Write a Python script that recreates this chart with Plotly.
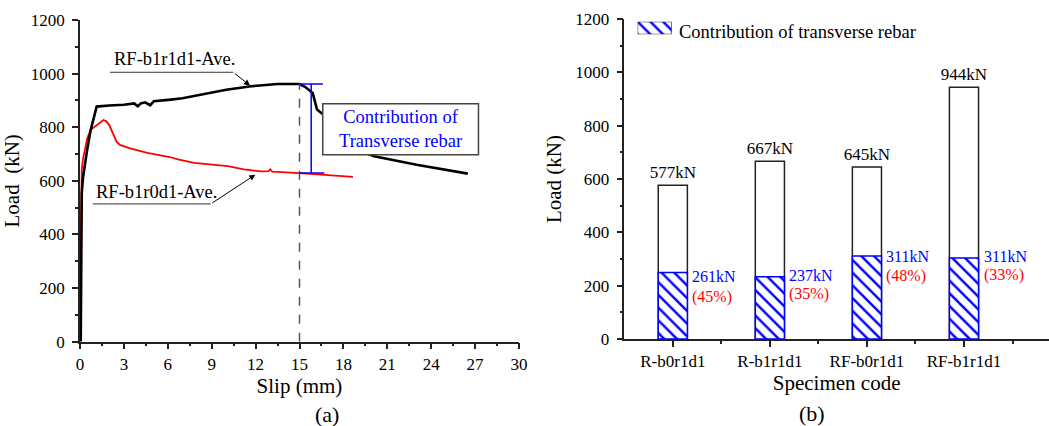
import plotly.graph_objects as go

# ---------------- data: panel (a) load-slip curves ----------------
black_x = [0.05, 0.08, 0.12, 0.2, 0.34, 0.5, 0.73, 0.95, 1.14, 2.0, 3.0, 3.7, 3.95, 4.15, 4.45, 4.8, 5.05,
           6.2, 7.0, 8.5, 10.0, 11.7, 13.5, 15.0, 15.4, 15.9, 16.2, 16.6, 17.2, 18.2, 19.2, 20.1, 23.0, 26.5]
black_y = [0, 300, 554, 610, 666, 720, 790, 840, 877, 881, 884, 889, 878, 889, 893, 882, 897,
           903, 908, 924, 940, 953, 961, 961, 950, 928, 866, 848, 800, 745, 712, 692, 660, 627]

red_x = [0.05, 0.08, 0.12, 0.2, 0.34, 0.5, 0.73, 1.1, 1.6, 1.8, 2.0, 2.5, 2.73, 3.37, 4.6, 6.2, 6.7,
         7.8, 10.1, 11.2, 12.4, 12.9, 13.0, 13.15, 15.0, 18.65]
red_y = [320, 520, 641, 680, 715, 760, 790, 805, 827, 822, 808, 746, 734, 722, 704, 688, 680,
         667, 655, 643, 635, 636, 643, 634, 629, 615]

peak_slip = 15.0
peak_load = 961
red_load_at_peak = 629

# ---------------- data: panel (b) bar chart ----------------
categories = ["R-b0r1d1", "R-b1r1d1", "RF-b0r1d1", "RF-b1r1d1"]
total_load = [577, 667, 645, 944]
rebar_contrib = [249, 233, 311, 304]
contrib_text = ["261kN", "237kN", "311kN", "311kN"]
pct_text = ["(45%)", "(35%)", "(48%)", "(33%)"]

# label anchor heights (layout positions for the side labels)
contrib_label_y = [234, 240, 311, 311]
pct_label_y = [159, 169, 236, 239]

FONT = "Liberation Serif, Times New Roman, Times, serif"
W, H = 1049, 426
AX = "#222222"

fig = go.Figure()

fig.add_trace(go.Scatter(x=red_x, y=red_y, mode="lines", line=dict(color="#ff0000", width=1.8),
                         xaxis="x", yaxis="y", showlegend=False, name="RF-b1r0d1-Ave."))
fig.add_trace(go.Scatter(x=black_x, y=black_y, mode="lines", line=dict(color="#000000", width=2.6),
                         xaxis="x", yaxis="y", showlegend=False, name="RF-b1r1d1-Ave."))

hatch = dict(shape="\\", fgcolor="#0000ff", bgcolor="white", size=9, solidity=0.27, fgopacity=1)

xpos = list(range(len(categories)))
fig.add_trace(go.Bar(x=xpos, y=total_load, width=0.3, xaxis="x2", yaxis="y2",
                     marker=dict(color="white", line=dict(color=AX, width=1.5)),
                     texttemplate="%{y}kN", textposition="outside", constraintext="none",
                     textfont=dict(family=FONT, size=17, color="black"),
                     cliponaxis=False, showlegend=False, name="Total"))
fig.add_trace(go.Bar(x=xpos, y=rebar_contrib, width=0.3, xaxis="x2", yaxis="y2",
                     marker=dict(color="white", line=dict(color="#0000ff", width=1.5), pattern=hatch),
                     showlegend=False, name="Contribution of transverse rebar"))
# legend swatch (own tiny axes)
fig.add_trace(go.Bar(x=[0], y=[1], width=1, xaxis="x3", yaxis="y3",
                     marker=dict(color="white", line=dict(color="#111111", width=1), pattern=hatch),
                     showlegend=False, hoverinfo="skip"))

axis_common = dict(showline=True, linecolor=AX, linewidth=1.5, ticks="outside",
                   ticklen=6, tickwidth=1.5, tickcolor=AX, showgrid=False, zeroline=False,
                   mirror=False, automargin=False, tickfont=dict(family=FONT, size=17, color="black"))
minor_common = dict(ticks="outside", ticklen=3, tickwidth=1.5, tickcolor=AX)

fig.update_layout(
    width=W, height=H, margin=dict(l=0, r=0, t=0, b=0),
    paper_bgcolor="white", plot_bgcolor="white", barmode="overlay",
    font=dict(family=FONT, color="black"),
    xaxis=dict(domain=[80 / W, 519 / W], range=[0, 30], tick0=0, dtick=3,
               minor=dict(dtick=1.5, **minor_common),
               title=dict(text="Slip (mm)", font=dict(family=FONT, size=21), standoff=4),
               anchor="y", **axis_common),
    yaxis=dict(domain=[(H - 341.7) / H, (H - 20) / H], range=[0, 1200], tick0=0, dtick=200,
               minor=dict(dtick=100, **minor_common),
               title=dict(text="Load\u00a0 (kN)", font=dict(family=FONT, size=21), standoff=8),
               anchor="x", ticklabelstandoff=4, **axis_common),
    xaxis2=dict(domain=[624.3 / W, 1.0], range=[-0.5, 3.876], tickmode="array", tickvals=xpos,
                ticktext=categories,
                minor=dict(tickmode="array", tickvals=[0.5, 1.5, 2.5, 3.5], **minor_common),
                title=dict(text="Specimen code", font=dict(family=FONT, size=21), standoff=2),
                anchor="y2", **axis_common),
    yaxis2=dict(domain=[(H - 339) / H, (H - 19) / H], range=[0, 1200], tick0=0, dtick=200,
                minor=dict(dtick=100, **minor_common),
                title=dict(text="Load (kN)", font=dict(family=FONT, size=21), standoff=8),
                anchor="x2", ticklabelstandoff=4, **axis_common),
    xaxis3=dict(domain=[637.7 / W, 671.7 / W], range=[-0.5, 0.5], visible=False, anchor="y3",
                fixedrange=True, automargin=False),
    yaxis3=dict(domain=[(H - 34.3) / H, (H - 21.7) / H], range=[0, 1], visible=False, anchor="x3",
                fixedrange=True, automargin=False),
)

shapes = []
# dashed vertical line at the peak slip
shapes.append(dict(type="line", xref="x", yref="y", x0=peak_slip, x1=peak_slip, y0=0, y1=peak_load,
                   line=dict(color="#555555", width=1.5, dash="dash")))
# blue contribution bracket
bx = peak_slip + 0.8
shapes.append(dict(type="line", xref="x", yref="y", x0=bx, x1=bx, y0=red_load_at_peak, y1=peak_load,
                   line=dict(color="#0000ff", width=1.5)))
shapes.append(dict(type="line", xref="x", yref="y", x0=peak_slip, x1=peak_slip + 1.6, y0=peak_load,
                   y1=peak_load, line=dict(color="#0000ff", width=1.5)))
shapes.append(dict(type="line", xref="x", yref="y", x0=peak_slip, x1=peak_slip + 1.7,
                   y0=red_load_at_peak, y1=red_load_at_peak, line=dict(color="#0000ff", width=1.5)))
# text box
shapes.append(dict(type="rect", xref="x", yref="y", x0=16.59, x1=27.23, y0=697, y1=888,
                   fillcolor="white", line=dict(color="#444444", width=1.5), layer="above"))
# label underlines
shapes.append(dict(type="line", xref="x", yref="y", x0=2.05, x1=10.48, y0=1005, y1=1005,
                   line=dict(color="#333333", width=1)))
shapes.append(dict(type="line", xref="x", yref="y", x0=0.87, x1=8.94, y0=514, y1=514,
                   line=dict(color="#333333", width=1)))
fig.update_layout(shapes=shapes)

ann = []
ann.append(dict(xref="x", yref="y", x=6.49, y=1054, text="RF-b1r1d1-Ave.", showarrow=False,
                font=dict(family=FONT, size=18.5, color="black")))
ann.append(dict(xref="x", yref="y", x=5.24, y=560, text="RF-b1r0d1-Ave.", showarrow=False,
                font=dict(family=FONT, size=18.5, color="black")))
ann.append(dict(xref="x", yref="y", x=11.62, y=955, axref="x", ayref="y", ax=10.48, ay=1005, text="",
                showarrow=True, arrowhead=2, arrowsize=1.2, arrowwidth=1, arrowcolor="black"))
ann.append(dict(xref="x", yref="y", x=11.98, y=623, axref="x", ayref="y", ax=8.94, ay=514, text="",
                showarrow=True, arrowhead=2, arrowsize=1.2, arrowwidth=1, arrowcolor="black"))
ann.append(dict(xref="x", yref="y", x=21.91, y=792, text="Contribution of<br>Transverse rebar",
                showarrow=False, align="center",
                font=dict(family=FONT, size=18.5, color="#0000ff")))
for i in range(len(categories)):
    ann.append(dict(xref="x2", yref="y2", x=xpos[i] + 0.15, y=contrib_label_y[i], xanchor="left",
                    xshift=3, text=contrib_text[i], showarrow=False,
                    font=dict(family=FONT, size=16, color="#0000ff")))
    ann.append(dict(xref="x2", yref="y2", x=xpos[i] + 0.15, y=pct_label_y[i], xanchor="left",
                    xshift=3, text=pct_text[i], showarrow=False,
                    font=dict(family=FONT, size=16, color="#ff0000")))
ann.append(dict(xref="paper", yref="paper", x=677 / W, y=(H - 31.7) / H, xanchor="left",
                yanchor="middle", text="Contribution of transverse rebar", showarrow=False,
                font=dict(family=FONT, size=18.5, color="black")))
ann.append(dict(xref="paper", yref="paper", x=313 / W, y=(H - 414) / H, yanchor="middle",
                text="(a)", showarrow=False, font=dict(family=FONT, size=22, color="black")))
ann.append(dict(xref="paper", yref="paper", x=826.7 / W, y=(H - 413.3) / H, yanchor="middle",
                text="(b)", showarrow=False, font=dict(family=FONT, size=22, color="black")))
fig.update_layout(annotations=ann)

fig.write_html(
    "out.html",
    config={"displayModeBar": False},
    post_script="document.documentElement.style.margin='0';document.body.style.margin='0';"
                "document.body.style.overflow='hidden';",
)
